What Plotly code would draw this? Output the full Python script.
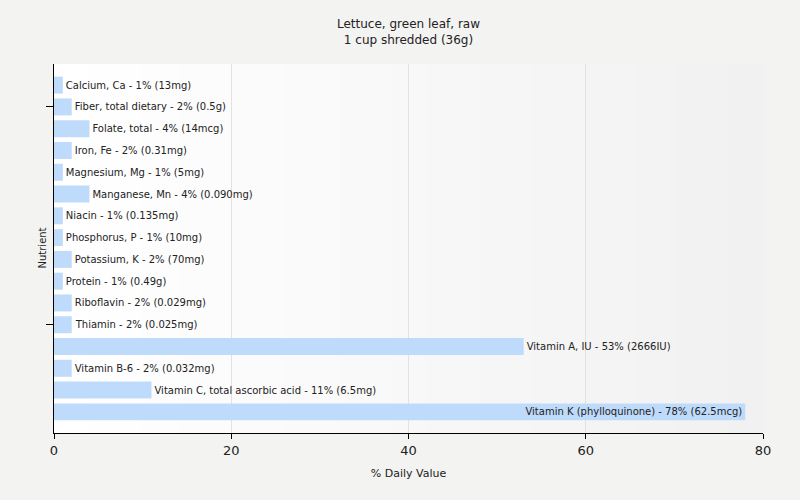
import plotly.graph_objects as go

nutrients = ["Calcium, Ca", "Fiber, total dietary", "Folate, total", "Iron, Fe", "Magnesium, Mg",
             "Manganese, Mn", "Niacin", "Phosphorus, P", "Potassium, K", "Protein", "Riboflavin",
             "Thiamin", "Vitamin A, IU", "Vitamin B-6", "Vitamin C, total ascorbic acid",
             "Vitamin K (phylloquinone)"]
daily_pct = [1, 2, 4, 2, 1, 4, 1, 1, 2, 1, 2, 2, 53, 2, 11, 78]
amounts = ["13mg", "0.5g", "14mcg", "0.31mg", "5mg", "0.090mg", "0.135mg", "10mg", "70mg",
           "0.49g", "0.029mg", "0.025mg", "2666IU", "0.032mg", "6.5mg", "62.5mcg"]

labels = [f"{n} - {p}% ({a})" for n, p, a in zip(nutrients, daily_pct, amounts)]
positions = list(range(len(nutrients)))
textpos = ["inside" if p > 60 else "outside" for p in daily_pct]

fig = go.Figure(go.Bar(
    x=daily_pct, y=positions, orientation="h",
    text=labels, textposition=textpos, insidetextanchor="end",
    textfont=dict(family="DejaVu Sans", size=10, color="#222222"),
    marker=dict(color="#bfdbfb", line=dict(width=0)),
    cliponaxis=False, hoverinfo="skip",
))

# horizontal gradient background of plot area (white -> light grey)
n_strips = 40
shapes = []
for i in range(n_strips):
    t = i / (n_strips - 1)
    c = int(round(255 - t * (255 - 241)))
    shapes.append(dict(type="rect", xref="x domain", yref="y domain",
                       x0=i / n_strips, x1=(i + 1) / n_strips + 0.002, y0=0, y1=1,
                       fillcolor=f"rgb({c},{c},{c})", line=dict(width=0), layer="below"))

plot_h = 500 - 64 - 67
fig.update_layout(
    width=800, height=500,
    margin=dict(l=54, r=37, t=64, b=67),
    paper_bgcolor="#f3f3f2", plot_bgcolor="#f9f9f9",
    shapes=shapes,
    bargap=0.22,
    showlegend=False,
    font=dict(family="DejaVu Sans", size=11, color="#222222"),
    uniformtext=dict(minsize=10, mode="show"),
    annotations=[
        dict(text="Lettuce, green leaf, raw<br>1 cup shredded (36g)", x=0.5, xref="paper",
             xanchor="center", y=1 + (64 - 31.5) / plot_h, yref="paper", yanchor="middle",
             showarrow=False, font=dict(size=12, color="#222222")),
        dict(text="Nutrient", textangle=-90, x=-12 / 709, xref="paper", xanchor="center",
             y=0.5, yref="paper", showarrow=False, font=dict(size=10, color="#222222")),
    ],
)
fig.update_xaxes(range=[0, 80], tickvals=[0, 20, 40, 60, 80], showgrid=True, gridcolor="#e2e2e2",
                 showline=True, linecolor="#000000", linewidth=1, ticks="outside", ticklen=5,
                 tickcolor="#000000", zeroline=False, layer="above traces",
                 title=dict(text="% Daily Value", font=dict(size=11), standoff=12),
                 tickfont=dict(size=13))
fig.update_yaxes(range=[15.97, -0.97], tickvals=[1, 11], ticktext=["", ""], showgrid=False,
                 showline=True, linecolor="#000000", linewidth=1, ticks="outside", ticklen=7,
                 tickcolor="#000000", zeroline=False)

fig.write_html("out.html")
